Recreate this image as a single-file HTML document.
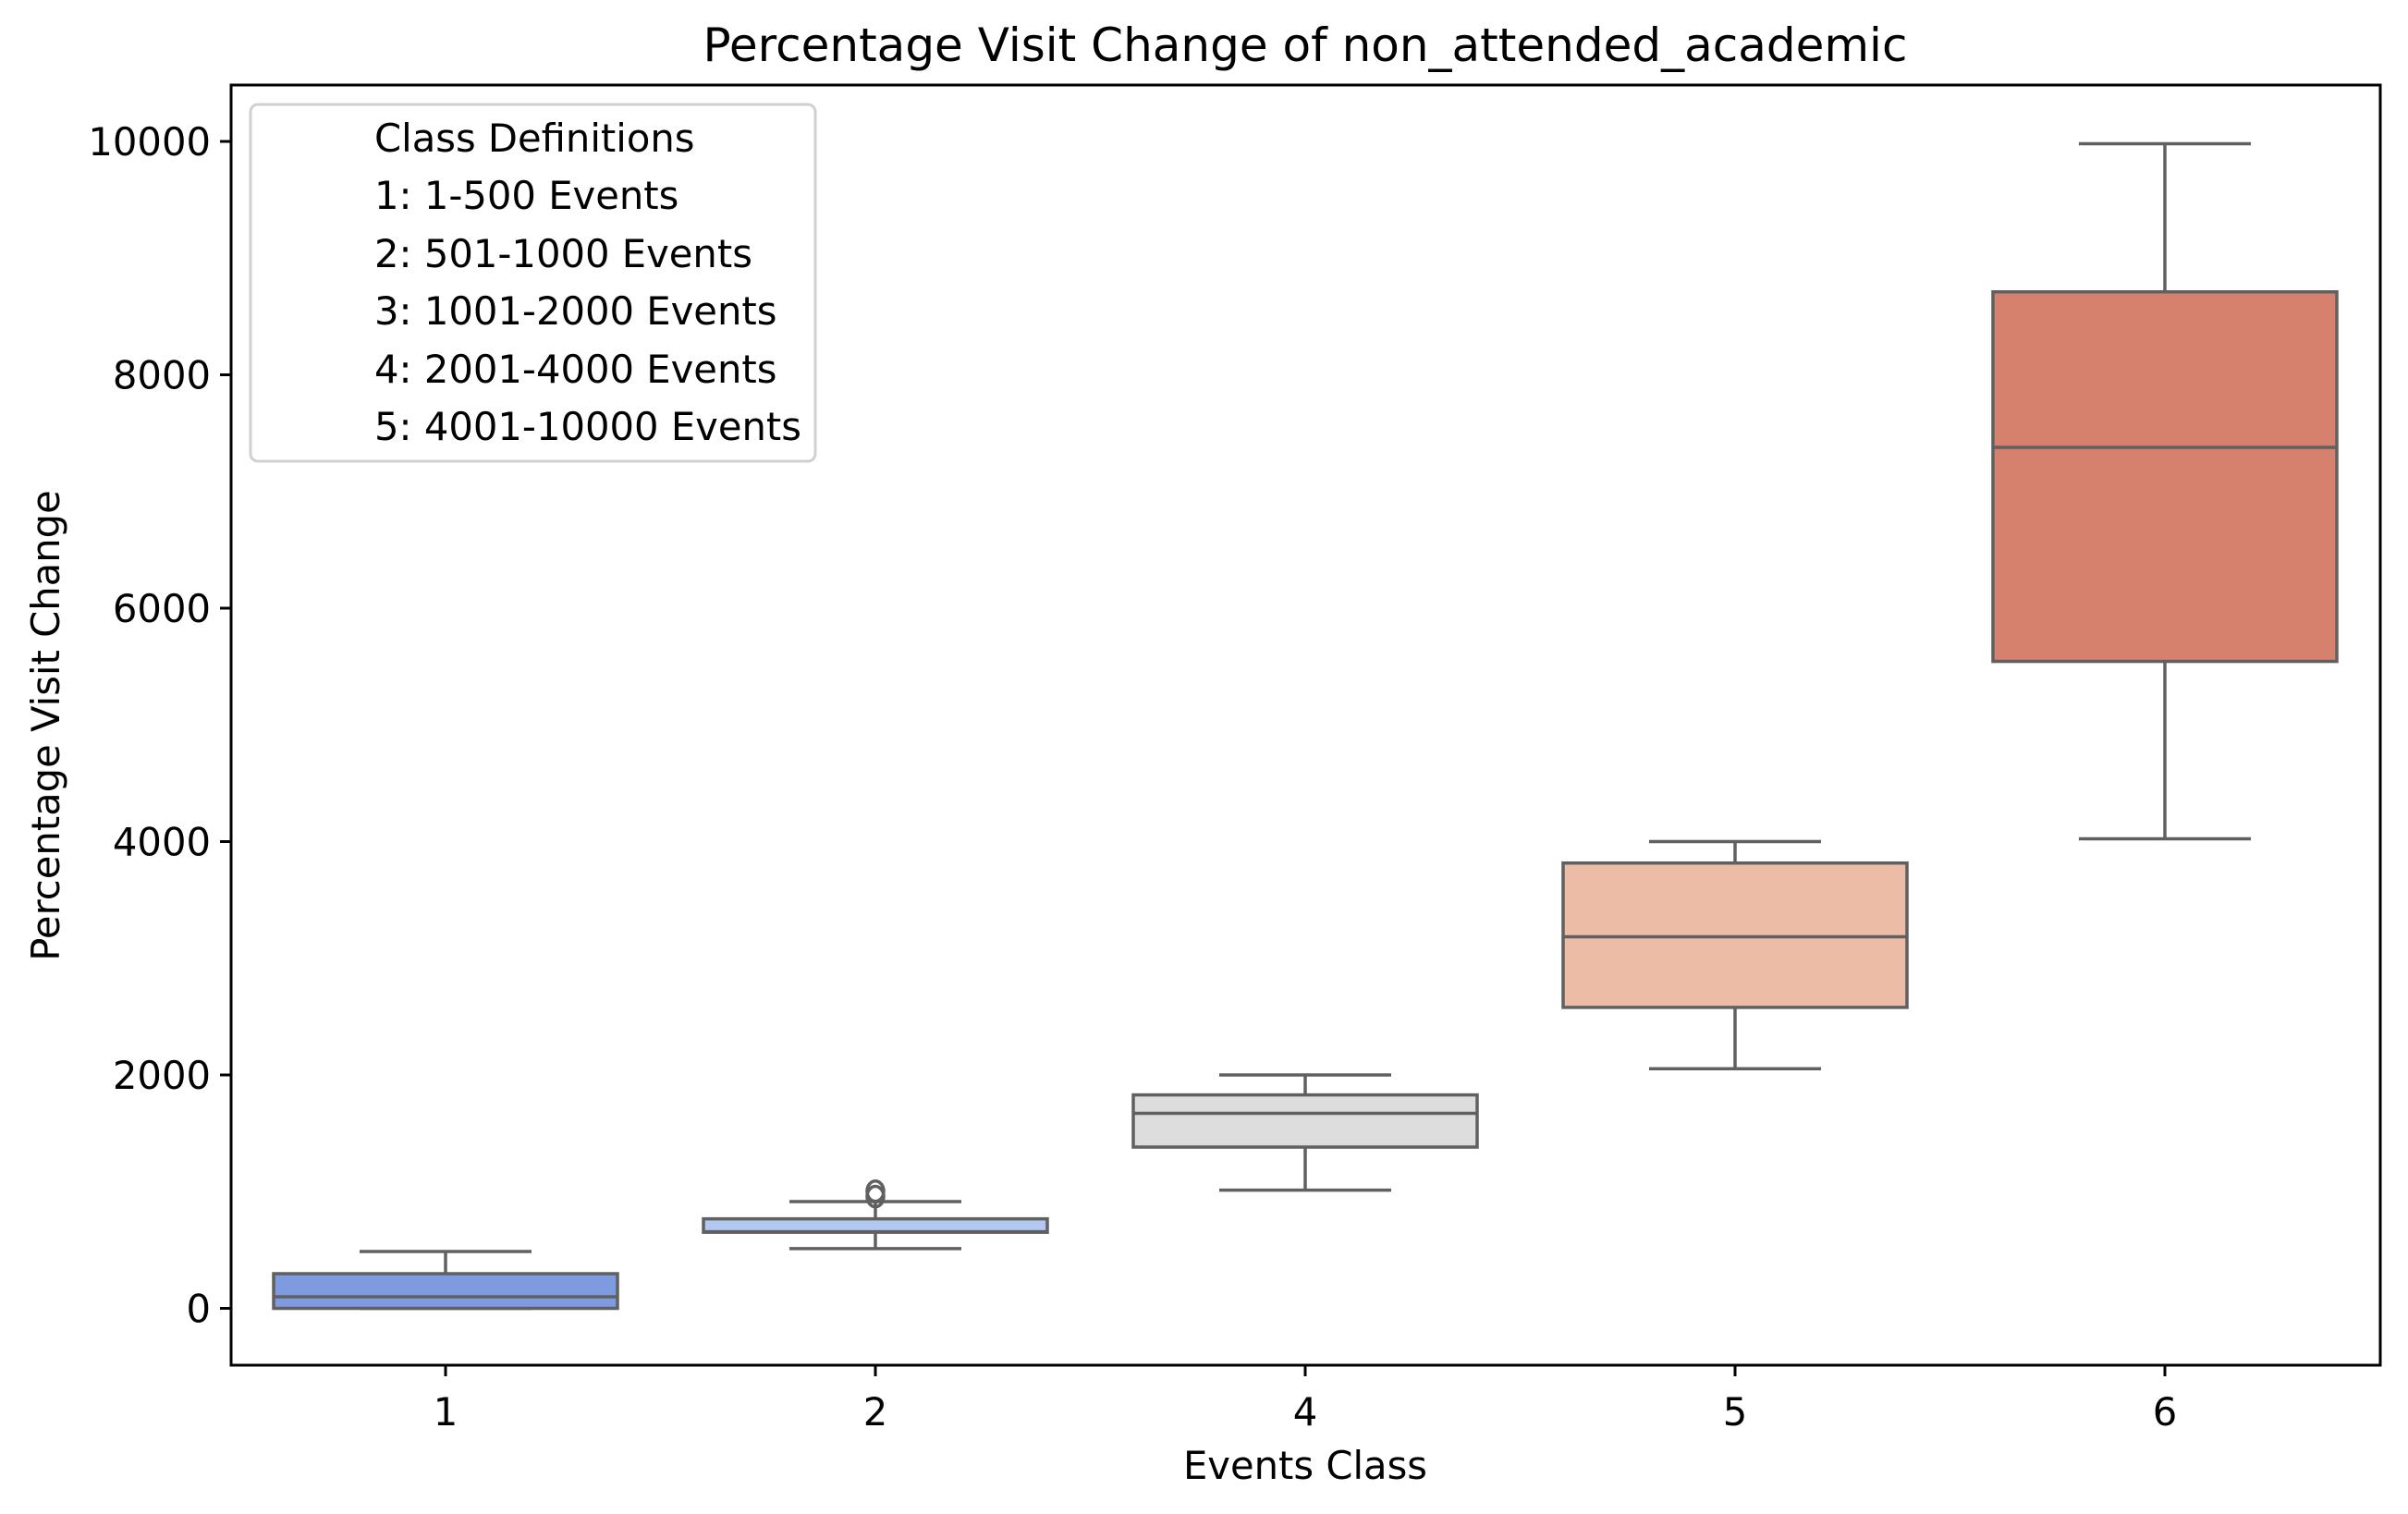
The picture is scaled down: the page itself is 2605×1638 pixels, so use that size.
<!DOCTYPE html>
<html><head><meta charset="utf-8"><style>
html,body{margin:0;padding:0;background:#fff;}
svg{display:block;font-family:"DejaVu Sans","Liberation Sans",sans-serif;}
</style></head><body>
<svg id="chart" width="2605" height="1638" viewBox="0 0 2605 1638" xmlns="http://www.w3.org/2000/svg">
<rect width="2605" height="1638" fill="#fff"/>
<text x="1412" y="66" font-size="50" text-anchor="middle">Percentage Visit Change of non_attended_academic</text>
<g id="marks"></g>
<g id="axes"></g>
<text x="1412" y="1600" font-size="41.7" text-anchor="middle">Events Class</text>
<text transform="translate(64,785) rotate(-90)" font-size="41.7" text-anchor="middle">Percentage Visit Change</text>
<g>
<rect x="271" y="113" width="611" height="386" rx="8" fill="#fff" fill-opacity="0.8" stroke="#d0d0d0" stroke-width="3"/>
<text x="405" y="164" font-size="41.7">Class Definitions</text>
<text x="405" y="226" font-size="41.7">1: 1-500 Events</text>
<text x="405" y="289" font-size="41.7">2: 501-1000 Events</text>
<text x="405" y="351" font-size="41.7">3: 1001-2000 Events</text>
<text x="405" y="414" font-size="41.7">4: 2001-4000 Events</text>
<text x="405" y="476" font-size="41.7">5: 4001-10000 Events</text>
</g>
</svg>
<script>
const categories = ["1","2","4","5","6"];
const whiskerLow = [0, 512, 1013, 2053, 4024];
const q1 = [0, 652, 1382, 2579, 5544];
const medians = [99, 656, 1671, 3184, 7378];
const q3 = [297, 767, 1829, 3816, 8711];
const whiskerHigh = [487, 915, 2000, 4000, 9980];
const outliers = [[], [958, 1004], [], [], []];
const colors = ["#7f9be0", "#b1c8f0", "#dddddd", "#ecbca7", "#d6806e"];
const yTicks = [0, 2000, 4000, 6000, 8000, 10000];

const NS = "http://www.w3.org/2000/svg";
const L = 250, R = 2575, T = 92, B = 1477;
const x0 = 482, step = 465;
function xs(i){ return x0 + i*step; }
function ys(v){ return 1415.5 - v*0.12625; }
function mk(tag, attrs, parent){
  const e = document.createElementNS(NS, tag);
  for (const k in attrs) e.setAttribute(k, attrs[k]);
  parent.appendChild(e); return e;
}
const marks = document.getElementById('marks');
const axes = document.getElementById('axes');
const lc = "#606060", lw = 3.5, bw = 372, cw = 186;
categories.forEach((c, i) => {
  const cx = xs(i);
  const g = mk('g', {}, marks);
  
  
  const w1 = mk('line', {x1:cx, x2:cx, y1:ys(q1[i]), y2:ys(whiskerLow[i]), stroke:lc, 'stroke-width':lw}, g);
  
  
  const w2 = mk('line', {x1:cx, x2:cx, y1:ys(q3[i]), y2:ys(whiskerHigh[i]), stroke:lc, 'stroke-width':lw}, g);
  
  
  const c1 = mk('line', {x1:cx-cw/2, x2:cx+cw/2, y1:ys(whiskerLow[i]), y2:ys(whiskerLow[i]), stroke:lc, 'stroke-width':lw}, g);
  
  
  const c2 = mk('line', {x1:cx-cw/2, x2:cx+cw/2, y1:ys(whiskerHigh[i]), y2:ys(whiskerHigh[i]), stroke:lc, 'stroke-width':lw}, g);
  
  
  const r = mk('rect', {x:cx-bw/2, y:ys(q3[i]), width:bw, height:Math.max(ys(q1[i])-ys(q3[i]),1), fill:colors[i], stroke:lc, 'stroke-width':lw}, g);
  
  
  const m = mk('line', {x1:cx-bw/2, x2:cx+bw/2, y1:ys(medians[i]), y2:ys(medians[i]), stroke:lc, 'stroke-width':lw}, g);
  
  
  outliers[i].forEach(v => {
    const o = mk('ellipse', {cx:cx, cy:ys(v), rx:9, ry:11, fill:'none', stroke:lc, 'stroke-width':3.5}, g);
    
    
  });
  const t = mk('line', {x1:cx, x2:cx, y1:B, y2:B+12, stroke:'#000', 'stroke-width':3}, axes);
  
  
  const tl = mk('text', {x:cx, y:1542, 'font-size':41.7, 'text-anchor':'middle'}, axes);
  tl.textContent = c;
  
  
});
yTicks.forEach(v => {
  const t = mk('line', {x1:L-12, x2:L, y1:ys(v), y2:ys(v), stroke:'#000', 'stroke-width':3}, axes);
  
  
  const tl = mk('text', {x:L-22, y:ys(v)+15, 'font-size':41.7, 'text-anchor':'end'}, axes);
  tl.textContent = v;
  
  
});
const frame = mk('rect', {x:L, y:T, width:R-L, height:B-T, fill:'none', stroke:'#000', 'stroke-width':3}, axes);


</script>
</body></html>
